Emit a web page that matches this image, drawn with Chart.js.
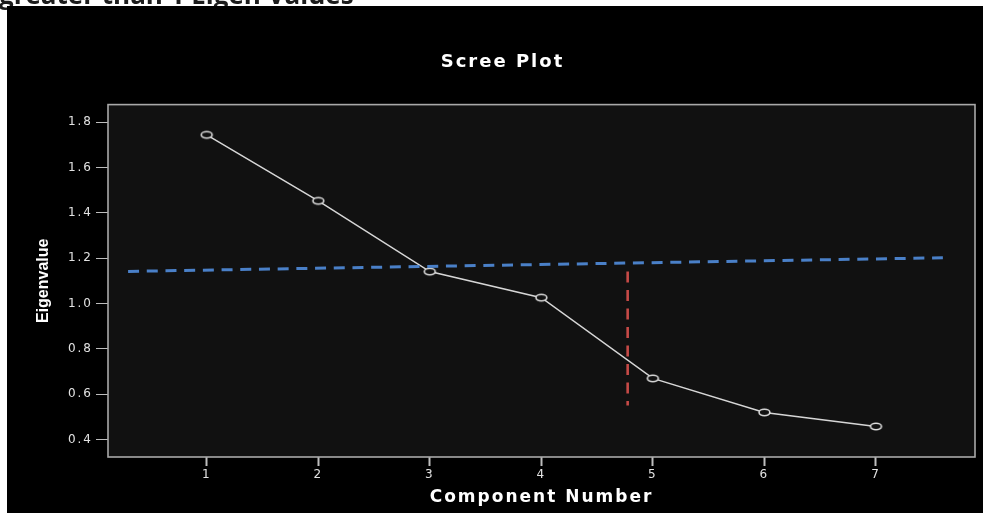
<!DOCTYPE html>
<html>
<head>
<meta charset="utf-8">
<title>Scree Plot</title>
<script src="https://cdn.jsdelivr.net/npm/chart.js@4.4.0/dist/chart.umd.min.js"></script>
<style>
  html, body { margin: 0; padding: 0; background: #fff; overflow: hidden; }
  #wrap { width: 983px; height: 513px; position: relative; }
</style>
</head>
<body>
<div id="wrap"><canvas id="scree" width="983" height="513"></canvas></div>
<script>
var pageHeading = "greater than 1 Eigen Values";
var components = [1, 2, 3, 4, 5, 6, 7];
var eigenvalues = [1.744, 1.453, 1.141, 1.026, 0.670, 0.520, 0.458];
var yTicks = [0.4, 0.6, 0.8, 1.0, 1.2, 1.4, 1.6, 1.8];

// dashed guide lines drawn over the plot
var blueLineX = [0.295, 7.6];
var blueLineY = [1.142, 1.202];
var redLineX = [4.774, 4.774];
var redLineY = [1.141, 0.551];

function toPoints(xs, ys) {
  return xs.map((x, i) => ({ x: x, y: ys[i] }));
}

// open ellipse marker like the original output
function ellipseMarker() {
  var c = document.createElement("canvas");
  c.width = 15;
  c.height = 11;
  var g = c.getContext("2d");
  g.fillStyle = "#111111";
  g.strokeStyle = "#dcdcdc";
  g.lineWidth = 1.6;
  g.beginPath();
  g.ellipse(7.5, 5.5, 5.4, 3.2, 0, 0, Math.PI * 2);
  g.fill();
  g.stroke();
  return c;
}

var backdrop = {
  id: "backdrop",
  beforeDraw(chart) {
    var ctx = chart.ctx;
    var a = chart.chartArea;
    ctx.save();
    ctx.letterSpacing = "0px";
    ctx.fillStyle = "#fff";
    ctx.fillRect(0, 0, chart.width, chart.height);
    ctx.fillStyle = "#1c1c1c";
    ctx.font = 'bold 26px "Open Sans"';
    ctx.textBaseline = "alphabetic";
    ctx.fillText(pageHeading, -1, 4);
    ctx.fillStyle = "#000";
    ctx.fillRect(7, 6, chart.width - 7, chart.height - 6);
    ctx.fillStyle = "#111111";
    ctx.fillRect(a.left, a.top, a.right - a.left, a.bottom - a.top);
    ctx.restore();

    // wide spaced lettering everywhere except the rotated axis title
    ctx.letterSpacing = "2px";
    var y = chart.scales.y;
    if (!y._plainTitle) {
      var orig = y.drawTitle;
      y.drawTitle = function () {
        var prev = this.ctx.letterSpacing;
        this.ctx.letterSpacing = "0px";
        orig.call(this);
        this.ctx.letterSpacing = prev;
      };
      y._plainTitle = true;
    }
  },
  afterDatasetsDraw(chart) {
    var ctx = chart.ctx;
    var a = chart.chartArea;
    ctx.save();
    ctx.strokeStyle = "#a9a9a9";
    ctx.lineWidth = 1.6;
    ctx.strokeRect(a.left, a.top, a.right - a.left, a.bottom - a.top);
    ctx.restore();
  }
};

var ctx = document.getElementById("scree").getContext("2d");

new Chart(ctx, {
  type: "line",
  data: {
    datasets: [
      {
        label: "Eigenvalue",
        data: toPoints(components, eigenvalues),
        borderColor: "#d6d6d6",
        borderWidth: 1.5,
        pointStyle: ellipseMarker(),
        pointRadius: 5,
        tension: 0,
        order: 2
      },
      {
        label: "blue",
        data: toPoints(blueLineX, blueLineY),
        borderColor: "#4a80c8",
        borderWidth: 3,
        borderDash: [11, 7.7],
        pointRadius: 0,
        order: 1
      },
      {
        label: "red",
        data: toPoints(redLineX, redLineY),
        borderColor: "#c64a47",
        borderWidth: 2.6,
        borderDash: [11, 7.5],
        pointRadius: 0,
        order: 1
      }
    ]
  },
  options: {
    responsive: false,
    animation: false,
    devicePixelRatio: 1,
    layout: { padding: { left: 30, right: 8, top: 6, bottom: 0 } },
    plugins: {
      legend: { display: false },
      tooltip: { enabled: false },
      title: {
        display: true,
        text: "Scree Plot",
        color: "#ffffff",
        font: { family: "DejaVu Sans", size: 18, weight: "bold" },
        padding: { top: 46, bottom: 31 }
      }
    },
    scales: {
      x: {
        type: "linear",
        min: 0.115,
        max: 7.888,
        afterBuildTicks: s => { s.ticks = components.map(v => ({ value: v })); },
        afterFit: s => { s.height = 56; },
        border: { display: false },
        grid: { drawOnChartArea: false, drawTicks: true, tickLength: 9, tickWidth: 2, tickColor: "#bdbdbd" },
        ticks: {
          color: "#e2e2e2",
          font: { family: "DejaVu Sans", size: 12 },
          padding: 2,
          maxRotation: 0,
          callback: v => String(v)
        },
        title: {
          display: true,
          text: "Component Number",
          color: "#ffffff",
          font: { family: "DejaVu Sans", size: 17, weight: "bold" },
          padding: { top: 0, bottom: 5 }
        }
      },
      y: {
        type: "linear",
        min: 0.3234,
        max: 1.8775,
        afterBuildTicks: s => { s.ticks = yTicks.map(v => ({ value: v })); },
        afterFit: s => { s.width = 78; },
        border: { display: false },
        grid: { drawOnChartArea: false, drawTicks: true, tickLength: 12, tickWidth: 1, tickColor: "#bdbdbd" },
        ticks: {
          color: "#e2e2e2",
          font: { family: "DejaVu Sans", size: 12 },
          padding: 3,
          callback: v => Number(v).toFixed(1)
        },
        title: {
          display: true,
          text: "Eigenvalue",
          color: "#ffffff",
          font: { family: "Liberation Sans", size: 16, weight: "bold" },
          padding: { top: 4, bottom: 0 }
        }
      }
    }
  },
  plugins: [backdrop]
});
</script>
</body>
</html>
